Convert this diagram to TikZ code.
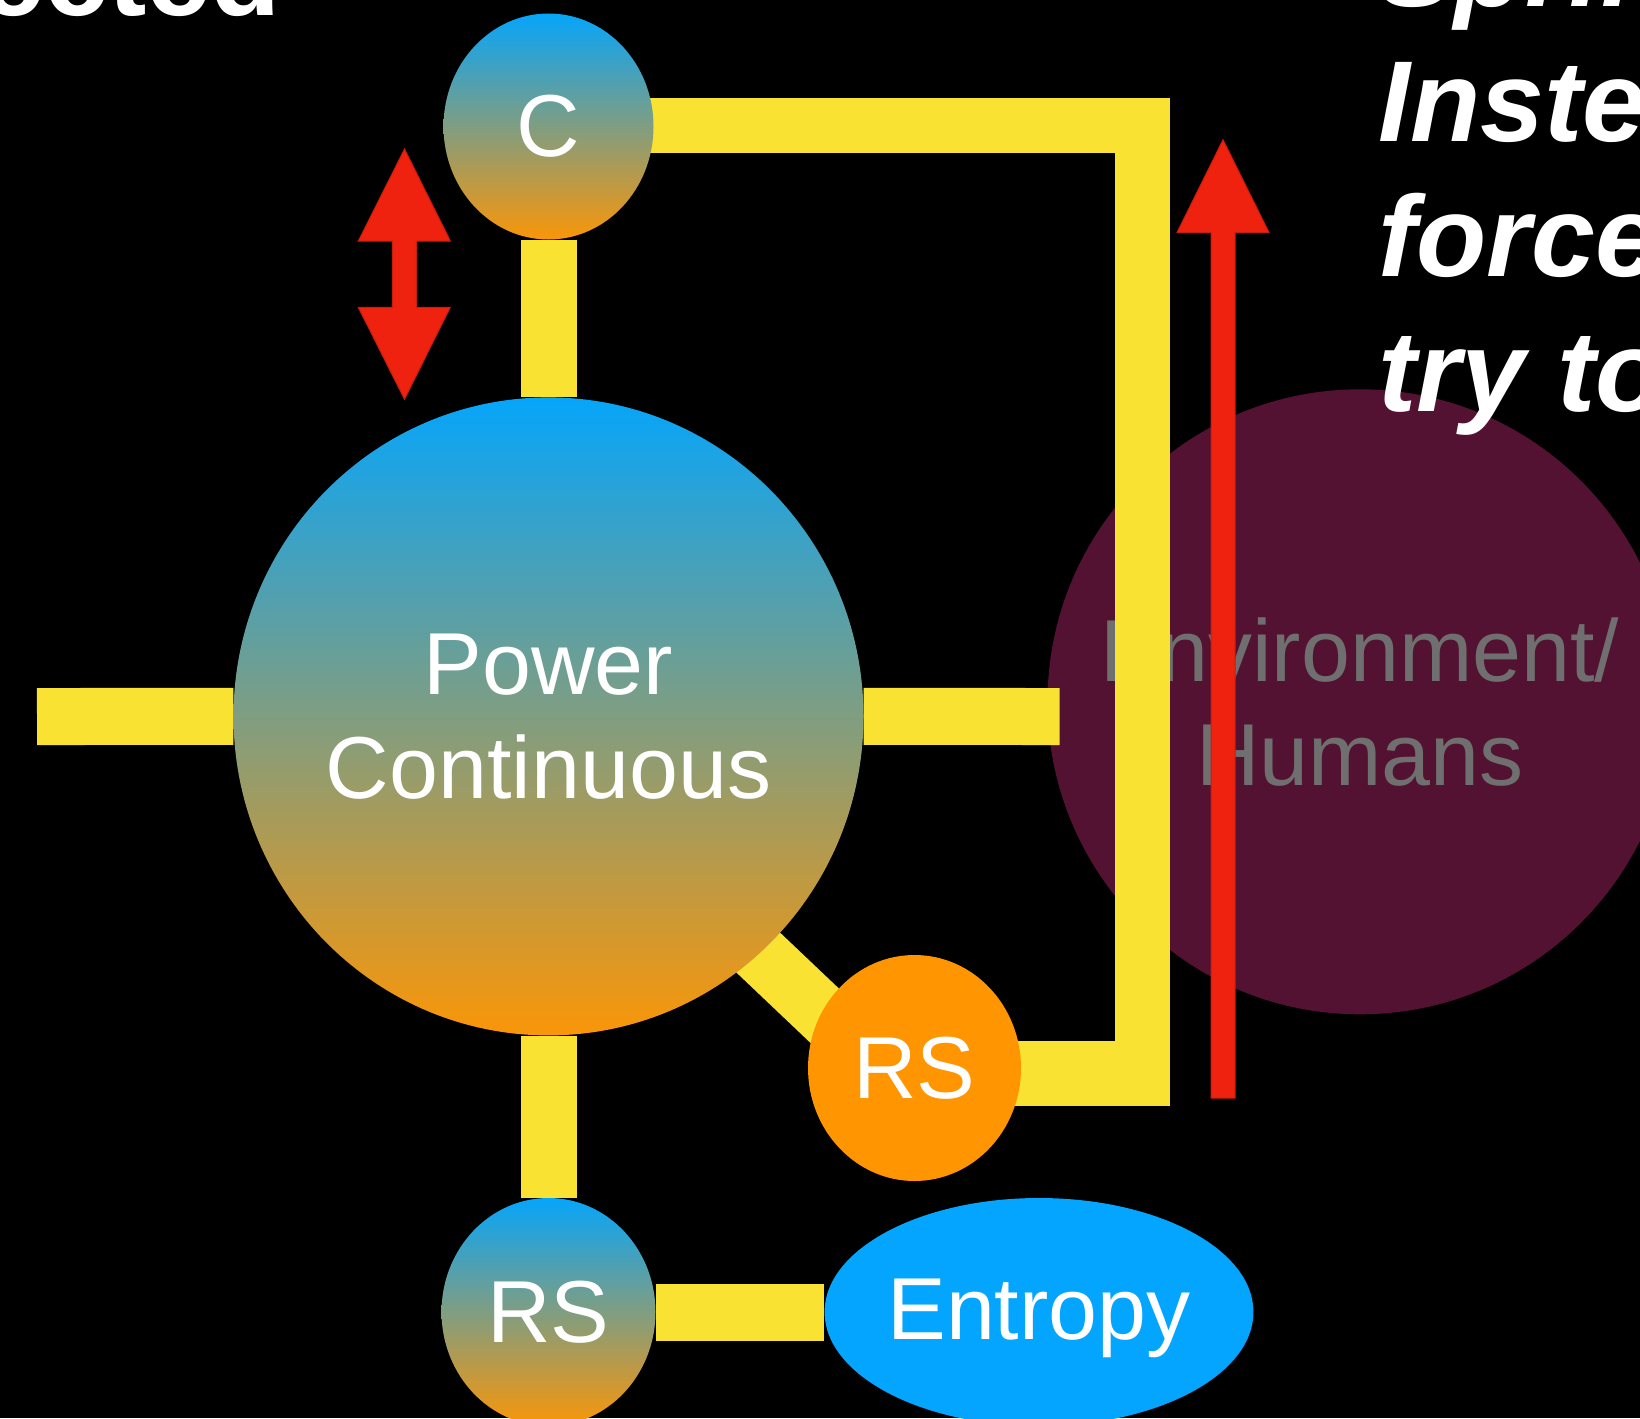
\documentclass[tikz,border=0pt]{standalone}
\usepackage{fontspec}
\setmainfont{Liberation Sans}
\usetikzlibrary{shapes.geometric,calc}

\definecolor{linkyellow}{RGB}{249,226,50}
\definecolor{arrowred}{RGB}{238,34,14}
\definecolor{arrowedge}{RGB}{200,28,12}
\definecolor{rsorange}{RGB}{255,149,0}
\definecolor{entblue}{RGB}{4,165,255}
\definecolor{envmaroon}{RGB}{84,18,51}
\definecolor{envgrey}{RGB}{111,111,111}
\definecolor{skytop}{RGB}{6,165,250}
\definecolor{ambbot}{RGB}{250,150,8}

\newcommand\bubblefont{\fontsize{88}{104}\selectfont}
\newcommand\headfont{\fontsize{115}{135}\selectfont\bfseries}

\pgfdeclarelayer{base}
\pgfdeclarelayer{links}
\pgfsetlayers{base,links,main}

\tikzset{
  link/.style={draw=linkyellow, line width=#1},
  bubble/.style={ellipse, inner sep=0pt, text=white, font=\bubblefont, align=center},
  grad/.style={top color=skytop, bottom color=ambbot},
  headline/.style={text=white, inner sep=0pt, font=\headfont},
  redshape/.style={fill=arrowred, draw=arrowedge, line width=1pt, line join=miter},
}

\begin{document}
\begin{tikzpicture}[x=1pt,y=-1pt]
\useasboundingbox (0,0) rectangle (1640,1418);

% bottom layer: backdrop and the environment disc
\begin{pgfonlayer}{base}
  \fill[black] (0,0) rectangle (1640,1418);
  \node[circle, fill=envmaroon, minimum size=625, inner sep=0pt, text=envgrey,
        font=\bubblefont, align=center] (env) at (1360,701.8) {Environment/\\Humans};
\end{pgfonlayer}

% bubbles
\node[bubble, grad, minimum width=630, minimum height=638] (power) at (548.5,716.4) {Power\\Continuous};
\node[bubble, grad, minimum width=210, minimum height=226] (c) at (548.5,126.5) {C};
\node[bubble, fill=rsorange, minimum width=213, minimum height=226] (rsa) at (914.5,1068) {RS};
\node[bubble, grad, minimum width=214, minimum height=228] (rsb) at (548.5,1312) {RS};
\node[bubble, fill=entblue, minimum width=426, minimum height=228, text depth=5pt] (ent) at (1039,1312) {Entropy};

% free ends of the yellow links
\coordinate (lend) at (37,716.5);
\coordinate (rend) at (1059.5,716.5);
\coordinate (bEdge) at (1170,125.5);
\coordinate (bTopC) at (1142.5,98);
\coordinate (bBotC) at (1142.5,1105.5);
\coordinate (bBot) at (1140.7,1073.8);

% yellow links, drawn beneath the bubbles
\begin{pgfonlayer}{links}
  \draw[link=56] (c) -- (power);
  \draw[link=56] (power) -- (rsb);
  \draw[link=57] (lend) -- (power);
  \draw[link=57] (power) -- (rend);
  \draw[link=59] ($(power)+(0,37)$) -- ($(rsa)+(0,33)$);
  \draw[link=57] (rsb) -- (ent);
  \draw[link=54.5] (c.center |- bEdge) -- (bEdge);
  \draw[link=55] (bTopC) -- (bBotC);
  \draw[link=65] (rsa.center |- bBot) -- (bBot);
\end{pgfonlayer}

% red double-headed arrow beside C
\path[redshape] (404.5,149) -- (450.3,241) -- (416.3,241) -- (416.3,307.3) -- (450.3,307.3)
  -- (404.5,399.3) -- (358.3,307.3) -- (392.7,307.3) -- (392.7,241) -- (358.3,241) -- cycle;

% red upward arrow across the environment
\path[redshape] (1223,139.7) -- (1269,232.6) -- (1235,232.6) -- (1235,1098)
  -- (1211,1098) -- (1211,232.6) -- (1177,232.6) -- cycle;

% headline text running off the edges
\node[headline, anchor=base east] (tlword) at (281,16) {ected};
\node[headline, font=\headfont\itshape, anchor=base west] (tr1) at (1378,6.7) {Spring};
\node[headline, font=\headfont\itshape, anchor=base west] (tr2) at (1378,141.7) {Inste};
\node[headline, font=\headfont\itshape, anchor=base west] (tr3) at (1378,276.7) {force};
\node[headline, font=\headfont\itshape, anchor=base west] (tr4) at (1378,411.7) {try to};
\end{tikzpicture}
\end{document}
